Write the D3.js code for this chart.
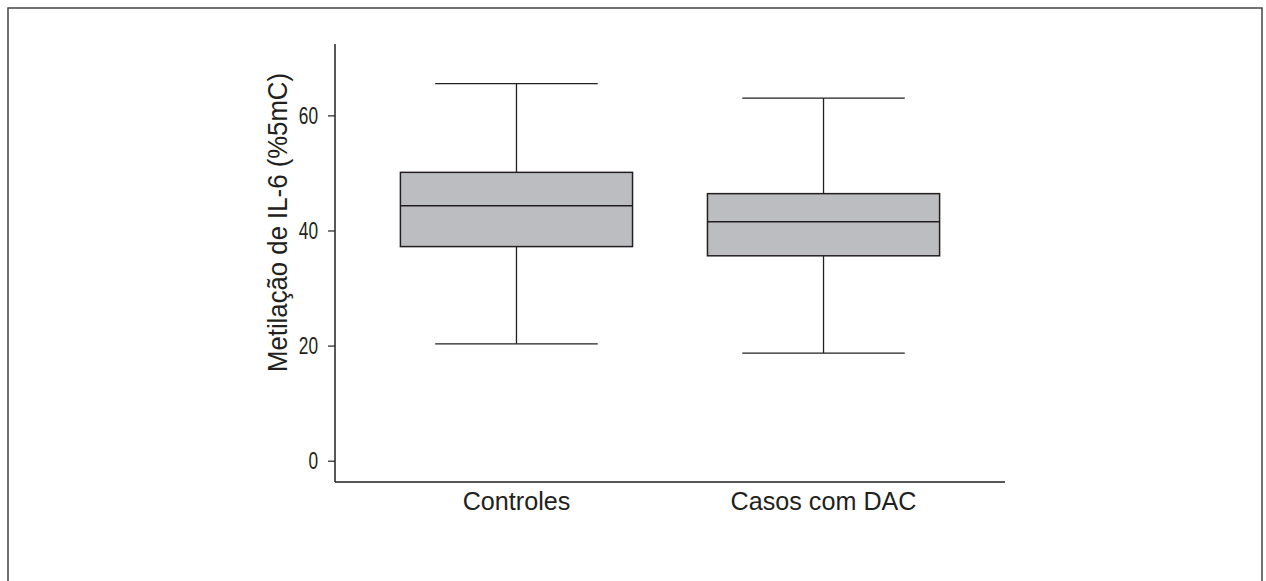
<!DOCTYPE html>
<html>
<head>
<meta charset='utf-8' />
<title>Metilação de IL-6</title>
<style>
  body { margin: 0; background: #fff; }
  svg text { font-family: 'Liberation Sans', Arial, sans-serif; fill: #231f20; }
</style>
</head>
<body>
<div id="wrapper"></div>
<script src='https://d3js.org/d3.v7.min.js' charset='utf-8'></script>
<script>
const width = 1266
const height = 581

// data
const groups = ['Controles', 'Casos com DAC']
const whiskerLow = [20.3, 18.7]
const q1 = [37.2, 35.6]
const median = [44.3, 41.5]
const q3 = [50.1, 46.4]
const whiskerHigh = [65.5, 63.0]
const yTicks = [0, 20, 40, 60]

const ink = '#231f20'

const svg = d3.select('#wrapper').append('svg')
    .attr('width', width)
    .attr('height', height)

// outer frame (bottom edge runs off the picture)
svg.append('rect')
    .attr('x', 8).attr('y', 8)
    .attr('width', 1254).attr('height', 600)
    .attr('fill', 'none')
    .attr('stroke', '#444')
    .attr('stroke-width', 1.5)

const y = d3.scaleLinear().domain([-3.7, 72.4]).range([482, 44])
const x = d3.scaleBand().domain(groups).range([335, 1005])
    .paddingInner(0.244).paddingOuter(0.213)

// axes
const yAxis = svg.append('g')
    .attr('transform', 'translate(335,0)')
    .call(d3.axisLeft(y).tickValues(yTicks).tickSize(7).tickSizeOuter(0))
yAxis.select('.domain').remove()
yAxis.selectAll('line').attr('stroke', ink).attr('stroke-width', 1.2)
// condensed look: squeeze the tick labels sideways
yAxis.selectAll('text')
    .attr('x', 0)
    .attr('transform', 'translate(-17,0) scale(0.72,1)')
    .attr('font-size', 24).attr('fill', ink)

svg.append('line')
    .attr('x1', 335).attr('x2', 335)
    .attr('y1', y(72.4)).attr('y2', y(-3.7))
    .attr('stroke', ink).attr('stroke-width', 1.5)
svg.append('line')
    .attr('x1', 335).attr('x2', 1005)
    .attr('y1', y(-3.7)).attr('y2', y(-3.7))
    .attr('stroke', ink).attr('stroke-width', 1.5)

const xAxis = svg.append('g')
    .attr('transform', 'translate(0,' + y(-3.7) + ')')
    .call(d3.axisBottom(x).tickSize(0).tickPadding(9))
xAxis.select('.domain').remove()
xAxis.selectAll('text')
    .attr('transform', 'scale(0.95,1)')
    .attr('x', d => (x.bandwidth() / 2) * (1 / 0.95 - 1))
    .attr('font-size', 26.5).attr('fill', ink)
// keep label centred on band after scaling
xAxis.selectAll('.tick')
    .attr('transform', d => 'translate(' + (x(d) + x.bandwidth() / 2) + ',0)')
xAxis.selectAll('text').attr('x', 0)

svg.append('text')
    .attr('transform', 'translate(287,222.5) rotate(-90) scale(0.92,1)')
    .attr('text-anchor', 'middle')
    .attr('font-size', 28)
    .text('Metilação de IL-6 (%5mC)')

// boxes
const boxes = svg.append('g').selectAll('g')
    .data(groups)
    .join('g')

const bw = x.bandwidth()
const capW = bw * 0.7

boxes.append('line')
    .attr('x1', d => x(d) + bw / 2).attr('x2', d => x(d) + bw / 2)
    .attr('y1', (d, i) => y(whiskerHigh[i])).attr('y2', (d, i) => y(whiskerLow[i]))
    .attr('stroke', ink).attr('stroke-width', 1.3)

boxes.selectAll('.cap')
    .data((d, i) => [whiskerLow[i], whiskerHigh[i]].map(v => ({ g: d, v: v })))
    .join('line')
    .attr('class', 'cap')
    .attr('x1', d => x(d.g) + bw / 2 - capW / 2)
    .attr('x2', d => x(d.g) + bw / 2 + capW / 2)
    .attr('y1', d => y(d.v)).attr('y2', d => y(d.v))
    .attr('stroke', ink).attr('stroke-width', 1.3)

boxes.append('rect')
    .attr('x', d => x(d))
    .attr('width', bw)
    .attr('y', (d, i) => y(q3[i]))
    .attr('height', (d, i) => y(q1[i]) - y(q3[i]))
    .attr('fill', '#bcbdc1')
    .attr('stroke', ink).attr('stroke-width', 1.5)

boxes.append('line')
    .attr('x1', d => x(d)).attr('x2', d => x(d) + bw)
    .attr('y1', (d, i) => y(median[i])).attr('y2', (d, i) => y(median[i]))
    .attr('stroke', ink).attr('stroke-width', 1.5)
</script>
</body>
</html>
